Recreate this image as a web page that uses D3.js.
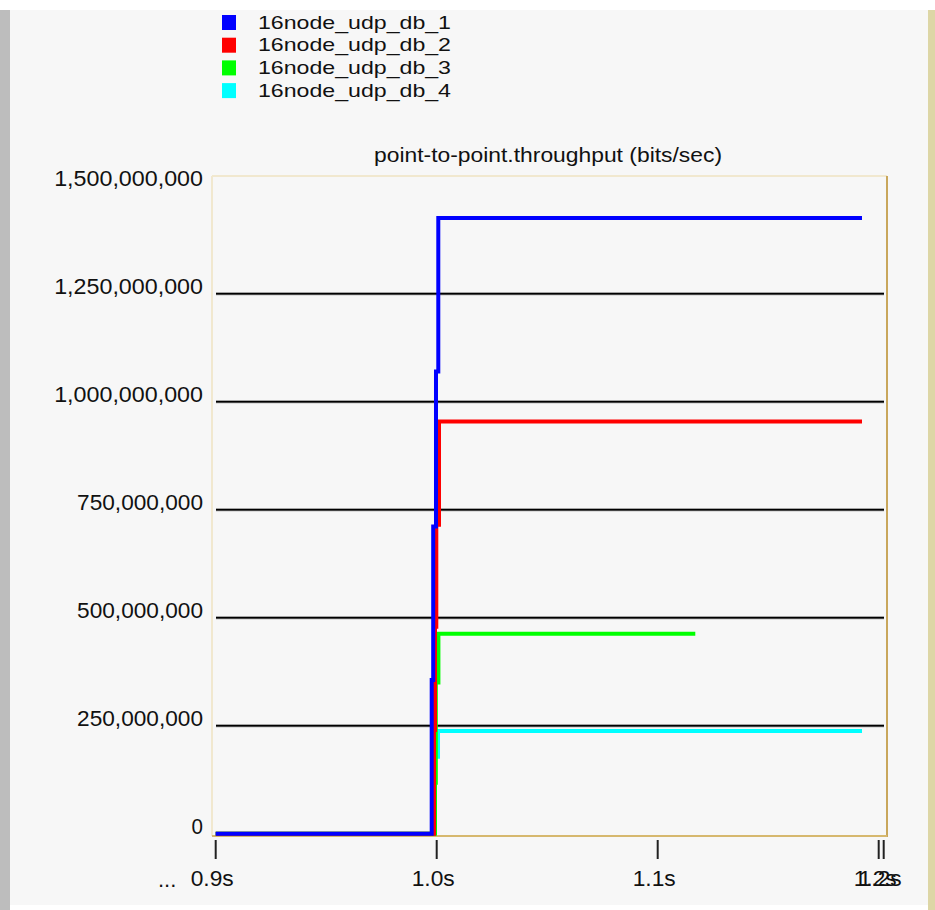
<!DOCTYPE html>
<html>
<head>
<meta charset="utf-8">
<script src="https://cdn.jsdelivr.net/npm/d3@7"></script>
<style>
  html, body { margin: 0; padding: 0; background: #ffffff; }
  svg text { font-family: "Liberation Sans", Arial, sans-serif; fill: #111; }
</style>
</head>
<body>
<div id="chart"></div>
<script>
// ---- data ----
const seriesNames = ["16node_udp_db_1", "16node_udp_db_2", "16node_udp_db_3", "16node_udp_db_4"];
const seriesColors = ["#0000ff", "#ff0000", "#00ff00", "#00ffff"];
const chartTitle = "point-to-point.throughput (bits/sec)";

// time (s) of each step, and throughput (bits/sec) from that time on
const times1 = [0.9, 0.99774, 0.99842, 0.99968, 1.00072, 1.19244];
const values1 = [0, 356e6, 711e6, 1070e6, 1425e6, 1425e6];
const times2 = [0.9, 0.99878, 0.99923, 0.99982, 1.00104, 1.19244];
const values2 = [0, 240e6, 479e6, 715e6, 954e6, 954e6];
const times3 = [0.9, 0.99923, 0.9996, 1.00077, 1.11701];
const values3 = [0, 118e6, 350e6, 463e6, 463e6];
const times4 = [0.9, 0.99878, 0.99914, 1.00059, 1.19244];
const values4 = [0, 62e6, 178e6, 238e6, 238e6];

const yTicks = [0, 250e6, 500e6, 750e6, 1000e6, 1250e6, 1500e6];
const yGrid = [250e6, 500e6, 750e6, 1000e6, 1250e6];
const xTicks = [0.9, 1.0, 1.1, 1.2, 1.20226];
const xTickLabels = ["0.9s", "1.0s", "1.1s", "1.2s", "1.2s"];

// ---- layout ----
const W = 935, H = 910;
const svg = d3.select("#chart").append("svg").attr("width", W).attr("height", H);

// window background pieces
svg.append("rect").attr("x", 0).attr("y", 0).attr("width", W).attr("height", H).attr("fill", "#ffffff");
svg.append("rect").attr("x", 10).attr("y", 10).attr("width", 918).attr("height", 895).attr("fill", "#f7f7f7");
svg.append("rect").attr("x", 0).attr("y", 10).attr("width", 10).attr("height", 900).attr("fill", "#bdbdbd");
svg.append("rect").attr("x", 928).attr("y", 10).attr("width", 7).attr("height", 900).attr("fill", "#ddd6a6");

const x = d3.scaleLinear().domain([0.9, 1.2]).range([215.7, 878.7]);
const y = d3.scaleLinear().domain([0, 1.5e9]).range([833.7, 185.7]);

const frame = { left: 212, top: 176, right: 887, bottom: 836 };

// frame borders
svg.append("line").attr("x1", frame.left).attr("x2", frame.right).attr("y1", frame.top).attr("y2", frame.top)
  .attr("stroke", "#f1e8cf").attr("stroke-width", 2);
svg.append("line").attr("x1", frame.left).attr("x2", frame.left).attr("y1", frame.top).attr("y2", frame.bottom)
  .attr("stroke", "#f1e8cf").attr("stroke-width", 2);
svg.append("line").attr("x1", frame.right).attr("x2", frame.right).attr("y1", frame.top).attr("y2", frame.bottom + 1)
  .attr("stroke", "#c9a75c").attr("stroke-width", 2);
svg.append("line").attr("x1", frame.left).attr("x2", frame.right).attr("y1", frame.bottom).attr("y2", frame.bottom)
  .attr("stroke", "#d6b86e").attr("stroke-width", 2);

// grid lines
const grid = svg.append("g");
yGrid.forEach(v => {
  grid.append("line").attr("x1", 216).attr("x2", 884).attr("y1", y(v)).attr("y2", y(v))
    .attr("stroke", "#8a8a8a").attr("stroke-width", 3);
  grid.append("line").attr("x1", 216).attr("x2", 884).attr("y1", y(v)).attr("y2", y(v))
    .attr("stroke", "#000000").attr("stroke-width", 1.6);
});

// y labels
const fmt = d3.format(",");
svg.append("g").selectAll("text").data(yTicks).join("text")
  .attr("x", 203).attr("y", d => y(d) - 7)
  .attr("text-anchor", "end").attr("dominant-baseline", "central")
  .style("font-size", "22px")
  .attr("textLength", d => fmt(d).length * 11.45)
  .attr("lengthAdjust", "spacingAndGlyphs")
  .text(d => fmt(d));

// x axis ticks & labels
const xg = svg.append("g");
xTicks.forEach((t, i) => {
  xg.append("line").attr("x1", x(t)).attr("x2", x(t)).attr("y1", 840).attr("y2", 859)
    .attr("stroke", "#222").attr("stroke-width", 2);
  xg.append("text").attr("x", x(t) - 25).attr("y", 878)
    .attr("dominant-baseline", "central").style("font-size", "22px")
    .attr("textLength", 43).attr("lengthAdjust", "spacingAndGlyphs")
    .text(xTickLabels[i]);
});
xg.append("text").attr("x", 158).attr("y", 879).attr("dominant-baseline", "central")
  .style("font-size", "22px").text("...");

// series
const series = [
  { t: times1, v: values1 },
  { t: times2, v: values2 },
  { t: times3, v: values3 },
  { t: times4, v: values4 }
];
const line = d3.line().curve(d3.curveStepAfter).x(d => x(d[0])).y(d => y(d[1]));
const lines = svg.append("g");
[3, 2, 1, 0].forEach(i => {
  const pts = series[i].t.map((t, j) => [t, series[i].v[j]]);
  lines.append("path").attr("d", line(pts)).attr("fill", "none")
    .attr("stroke", seriesColors[i]).attr("stroke-width", 4)
    .attr("stroke-linejoin", "miter").attr("stroke-linecap", "butt");
});

// legend
const lg = svg.append("g");
seriesNames.forEach((n, i) => {
  const cy = 22 + i * 22.7;
  lg.append("rect").attr("x", 222).attr("y", cy - 7).attr("width", 14).attr("height", 15)
    .attr("fill", seriesColors[i]);
  lg.append("text").attr("x", 258).attr("y", cy).attr("dominant-baseline", "central")
    .style("font-size", "19px")
    .attr("textLength", 193).attr("lengthAdjust", "spacingAndGlyphs")
    .text(n);
});

// title
svg.append("text").attr("x", 548).attr("y", 154).attr("text-anchor", "middle")
  .attr("dominant-baseline", "central").style("font-size", "21px")
  .attr("textLength", 348).attr("lengthAdjust", "spacingAndGlyphs")
  .text(chartTitle);
</script>
</body>
</html>
